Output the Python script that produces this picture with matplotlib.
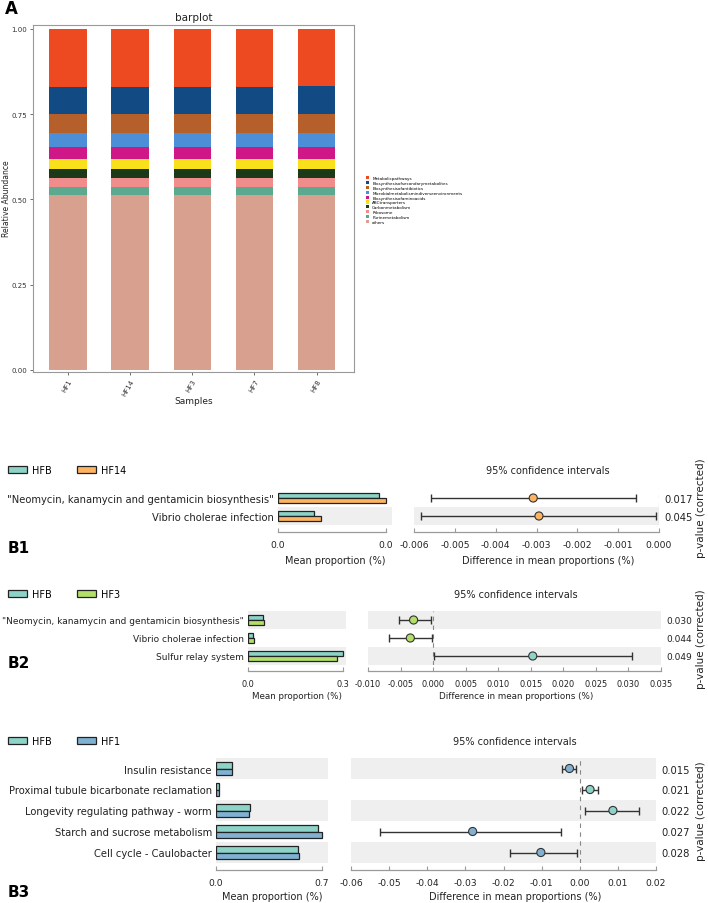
import numpy as np
import matplotlib
matplotlib.use("Agg")
import matplotlib.pyplot as plt
from matplotlib.patches import Patch
from matplotlib.ticker import FormatStrFormatter

plt.rcParams['font.family'] = ['DejaVu Sans']

# ---------------- Panel A data ----------------
samples = ['HF1', 'HF14', 'HF3', 'HF7', 'HF8']
pathways = ['Metabolicpathways', 'Biosynthesisofsecondarymetabolites', 'Biosynthesisofantibiotics',
            'Microbialmetabolismindiverseenvironments', 'Biosynthesisofaminoacids', 'ABCtransporters',
            'Carbonmetabolism', 'Ribosome', 'Purinemetabolism', 'others']
path_colors = ['#EE4A22', '#124A84', '#B5602A', '#4C8FD6', '#CF1788', '#F8E11A',
               '#1C3A18', '#F08C8C', '#5BAA8F', '#D8A08E']
ab_metabolic = [0.170, 0.170, 0.170, 0.171, 0.168]
ab_secondary = [0.078, 0.078, 0.078, 0.078, 0.080]
ab_antibiotics = [0.057, 0.057, 0.057, 0.057, 0.057]
ab_microbial = [0.041, 0.041, 0.041, 0.041, 0.041]
ab_aminoacids = [0.035, 0.035, 0.035, 0.035, 0.035]
ab_abc = [0.030, 0.030, 0.030, 0.030, 0.030]
ab_carbon = [0.026, 0.026, 0.026, 0.026, 0.026]
ab_ribosome = [0.026, 0.026, 0.026, 0.026, 0.026]
ab_purine = [0.024, 0.024, 0.024, 0.024, 0.024]
ab_others = [0.513, 0.513, 0.513, 0.512, 0.513]
abund = [ab_metabolic, ab_secondary, ab_antibiotics, ab_microbial, ab_aminoacids,
         ab_abc, ab_carbon, ab_ribosome, ab_purine, ab_others]

# ---------------- Panel B data ----------------
c_hfb, c_hf14, c_hf3, c_hf1 = '#8DD3C7', '#FDB462', '#B3DE69', '#80B1D3'

feat1 = ['"Neomycin, kanamycin and gentamicin biosynthesis"', 'Vibrio cholerae infection']
hfb_1 = [0.0375, 0.0134]
hf14_1 = [0.0400, 0.0160]
diff_1 = [-0.00308, -0.00294]
lo_1 = [-0.00559, -0.00584]
hi_1 = [-0.00057, -0.00007]
p_1 = ['0.017', '0.045']

feat2 = ['"Neomycin, kanamycin and gentamicin biosynthesis"', 'Vibrio cholerae infection', 'Sulfur relay system']
hfb_2 = [0.047, 0.015, 0.300]
hf3_2 = [0.052, 0.018, 0.283]
diff_2 = [-0.0030, -0.0035, 0.0153]
lo_2 = [-0.0053, -0.0067, 0.0001]
hi_2 = [-0.0003, -0.0001, 0.0305]
p_2 = ['0.030', '0.044', '0.049']

feat3 = ['Insulin resistance', 'Proximal tubule bicarbonate reclamation', 'Longevity regulating pathway - worm',
         'Starch and sucrose metabolism', 'Cell cycle - Caulobacter']
hfb_3 = [0.103, 0.020, 0.227, 0.673, 0.540]
hf1_3 = [0.106, 0.020, 0.220, 0.703, 0.549]
diff_3 = [-0.0027, 0.0027, 0.0087, -0.0281, -0.0102]
lo_3 = [-0.0047, 0.0005, 0.0013, -0.0524, -0.0182]
hi_3 = [-0.0010, 0.0048, 0.0156, -0.0048, -0.0008]
p_3 = ['0.015', '0.021', '0.022', '0.027', '0.028']

W, H = 708, 904
fig = plt.figure(figsize=(W / 100, H / 100), dpi=100)


def add_ax(l, t, r, b):
    return fig.add_axes([l / W, 1 - b / H, (r - l) / W, (b - t) / H])


def ftext(x, y, s, **kw):
    return fig.text(x / W, 1 - y / H, s, **kw)


# ---------------- Panel A ----------------
axA = add_ax(33, 26, 354, 373)
xs = np.arange(len(samples))
bottom = np.zeros(len(samples))
for name, vals, col in reversed(list(zip(pathways, abund, path_colors))):
    axA.bar(xs, vals, bottom=bottom, width=0.6, color=col, linewidth=0)
    bottom += np.array(vals)
axA.set_xlim(-0.56, 4.6)
axA.set_ylim(-0.0059, 1.0117)
axA.set_yticks([0, 0.25, 0.5, 0.75, 1.0])
axA.yaxis.set_major_formatter(FormatStrFormatter('%.2f'))
axA.set_xticks(xs)
axA.set_xticklabels(samples, rotation=60, ha='right', va='top', rotation_mode='anchor')
for s in axA.spines.values():
    s.set_color('#999999')
    s.set_linewidth(0.8)
axA.tick_params(labelsize=5, length=2.5, width=0.6, color='#555555', labelcolor='#333333', pad=1.5)
axA.set_title('barplot', fontsize=7.5, pad=3.5, color='#222222')
ftext(194, 401, 'Samples', ha='center', va='center', fontsize=6.5, color='#222222')
ftext(7, 199, 'Relative Abundance', ha='center', va='center', rotation=90, fontsize=5.5, color='#222222')
ftext(5, 14, 'A', fontsize=12, weight='bold', va='baseline', ha='left')
handles = [Patch(facecolor=c, edgecolor='none') for c in path_colors]
fig.legend(handles, pathways, loc='upper left', bbox_to_anchor=(366 / W, 1 - 177 / H), fontsize=3.0,
           frameon=False, handlelength=0.8, handleheight=0.8, labelspacing=0.2, handletextpad=0.7,
           borderaxespad=0, borderpad=0)

# ---------------- Panels B ----------------
band_col = '#EFEFEF'
txt_col = '#222222'


def stamp_panel(feats, g1, g2, col1, col2, name1, name2, diff, lo, hi, pvals,
                rows_top, rows_bot, lbox, rbox, lxlim, lticks, lfmt, rxlim, rticks, rfmt,
                legend_y, title_x, xlabel_y, rxlabel_x, tag, tag_y, fs=1.0):
    n = len(feats)
    ys = np.arange(n)[::-1]
    axL = add_ax(lbox[0], rows_top, lbox[1], rows_bot)
    axR = add_ax(rbox[0], rows_top, rbox[1], rows_bot)
    for ax in (axL, axR):
        ax.set_ylim(-0.5, n - 0.5)
        for j in range(0, n, 2):
            ax.axhspan(j - 0.5, j + 0.5, color=band_col, zorder=0, linewidth=0)
        for k in ('top', 'left', 'right'):
            ax.spines[k].set_visible(False)
        ax.spines['bottom'].set_position(('outward', 5 * fs))
        ax.spines['bottom'].set_color('#9A9A9A')
        ax.spines['bottom'].set_linewidth(0.9)
        ax.tick_params(axis='x', direction='in', length=3, width=0.8, color='#9A9A9A',
                       labelsize=6.6 * fs, labelcolor=txt_col, pad=6 * fs)
        ax.set_yticks([])
    h = 0.3
    axL.barh(ys + h / 2, g1, height=h, color=col1, edgecolor='#222222', linewidth=0.9, zorder=2)
    axL.barh(ys - h / 2, g2, height=h, color=col2, edgecolor='#222222', linewidth=0.9, zorder=2)
    axL.set_xlim(*lxlim)
    axL.set_xticks(lticks)
    axL.xaxis.set_major_formatter(FormatStrFormatter(lfmt))
    axL.spines['bottom'].set_bounds(lticks[0], lticks[-1])
    axL.set_yticks(ys)
    axL.set_yticklabels(feats, fontsize=7.2 * fs, color=txt_col)
    axL.tick_params(axis='y', length=0, pad=3)

    axR.set_xlim(*rxlim)
    axR.set_xticks(rticks)
    axR.xaxis.set_major_formatter(FormatStrFormatter(rfmt))
    axR.spines['bottom'].set_bounds(rticks[0], rticks[-1])
    axR.axvline(0, color='#888888', linestyle=(0, (4, 4)), linewidth=0.8, zorder=1)
    d = np.array(diff)
    err = np.vstack([d - np.array(lo), np.array(hi) - d])
    axR.errorbar(d, ys, xerr=err, fmt='none', ecolor='#333333', elinewidth=1.0, capsize=3, capthick=1.0, zorder=3)
    pcols = [col1 if v > 0 else col2 for v in diff]
    axR.scatter(d, ys, s=34, c=pcols, edgecolors='#333333', linewidths=0.8, zorder=4)

    tw = axR.twinx()
    tw.set_ylim(-0.5, n - 0.5)
    tw.set_yticks(ys)
    tw.set_yticklabels(pvals, fontsize=7.2 * fs, color=txt_col)
    tw.tick_params(axis='y', length=0, pad=4)
    for s in tw.spines.values():
        s.set_visible(False)
    ftext(701, (rows_top + rows_bot) / 2, 'p-value (corrected)', rotation=90, ha='center', va='center',
          fontsize=7.5, color=txt_col)

    fig.legend([Patch(facecolor=col1, edgecolor='#222222', linewidth=0.9),
                Patch(facecolor=col2, edgecolor='#222222', linewidth=0.9)], [name1, name2],
               loc='center left', bbox_to_anchor=(8 / W, 1 - legend_y / H), ncol=2, frameon=False,
               fontsize=7, handlelength=2.0, handleheight=0.7, handletextpad=0.45, columnspacing=2.6,
               borderaxespad=0, borderpad=0)
    ftext(title_x, legend_y, '95% confidence intervals', ha='center', va='center', fontsize=7, color=txt_col)
    ftext((lbox[0] + lbox[1]) / 2, xlabel_y, 'Mean proportion (%)', ha='center', va='center',
          fontsize=7 * fs, color=txt_col)
    ftext(rxlabel_x, xlabel_y, 'Difference in mean proportions (%)', ha='center', va='center',
          fontsize=7 * fs, color=txt_col)
    ftext(8, tag_y, tag, fontsize=11, weight='bold', ha='left', va='center')


stamp_panel(feat1, hfb_1, hf14_1, c_hfb, c_hf14, 'HFB', 'HF14', diff_1, lo_1, hi_1, p_1,
            490, 526, (277.7, 392), (414, 659), (0, 0.0422), [0, 0.04], '%.1f',
            (-0.006, 0.0), np.arange(-0.006, 0.0001, 0.001), '%.3f',
            471, 548, 561, 548, 'B1', 549)

stamp_panel(feat2, hfb_2, hf3_2, c_hfb, c_hf3, 'HFB', 'HF3', diff_2, lo_2, hi_2, p_2,
            612, 666, (248, 346), (368, 661), (0, 0.311), [0, 0.3], '%.1f',
            (-0.010, 0.035), np.arange(-0.010, 0.0351, 0.005), '%.3f',
            595, 516, 697, 516, 'B2', 664, fs=0.9)

stamp_panel(feat3, hfb_3, hf1_3, c_hfb, c_hf1, 'HFB', 'HF1', diff_3, lo_3, hi_3, p_3,
            759, 864, (216, 328), (351, 656), (0, 0.74), [0, 0.7], '%.1f',
            (-0.06, 0.02), np.arange(-0.06, 0.0201, 0.01), '%.2f',
            742, 515, 897, 515, 'B3', 893)

fig.savefig('out.png', dpi=100)
